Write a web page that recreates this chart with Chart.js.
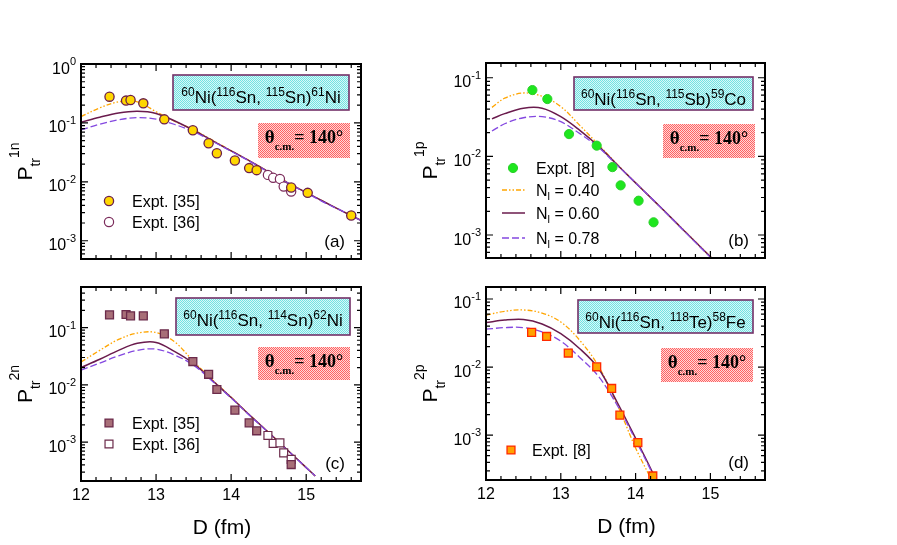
<!DOCTYPE html>
<html><head><meta charset="utf-8">
<script src="https://cdn.jsdelivr.net/npm/chart.js@4.4.1/dist/chart.umd.min.js"></script>
<style>
html,body{margin:0;padding:0;background:#fff;}
#wrap{position:relative;width:897px;height:545px;overflow:hidden;background:#fff;}
canvas{position:absolute;}
</style></head><body>
<div id="wrap">
<canvas id="ca" width="448" height="272" style="left:0px;top:0px"></canvas>
<canvas id="cb" width="497" height="272" style="left:400px;top:0px"></canvas>
<canvas id="cc" width="448" height="273" style="left:0px;top:272px"></canvas>
<canvas id="cd" width="497" height="273" style="left:400px;top:272px"></canvas>
</div>
<script>
// ---------------- data ----------------
const X_MIN = 12, X_MAX = 15.73;
const X_TICK_LABELS = [12, 13, 14, 15];
const X_MINOR_STEP = 0.2;

// (a) 60Ni(116Sn,115Sn)61Ni  -- P_tr^1n
const A_EXP35_D = [12.38, 12.60, 12.66, 12.83, 13.11, 13.49, 13.70, 13.81, 14.05, 14.24, 14.34, 14.80, 15.02, 15.60];
const A_EXP35_P = [0.279, 0.239, 0.245, 0.215, 0.115, 0.0751, 0.0452, 0.0306, 0.0230, 0.0171, 0.0158, 0.0080, 0.0065, 0.00269];
const A_EXP36_D = [14.49, 14.56, 14.65, 14.70, 14.80];
const A_EXP36_P = [0.0131, 0.0117, 0.0112, 0.0083, 0.00686];
const A_CURVE_D = [12.0, 12.25, 12.5, 12.75, 13.0, 13.25, 13.5, 13.75, 14.0, 14.25, 14.5, 14.75, 15.0, 15.25, 15.5, 15.75];
const A_NL040 = [0.128, 0.180, 0.228, 0.228, 0.155, 0.106, 0.076, 0.051, 0.0338, 0.0226, 0.0149, 0.0098, 0.0066, 0.0045, 0.0031, 0.00216];
const A_NL060 = [0.103, 0.125, 0.147, 0.157, 0.145, 0.108, 0.075, 0.050, 0.0335, 0.0225, 0.0148, 0.0097, 0.0066, 0.0045, 0.0031, 0.00215];
const A_NL078 = [0.076, 0.095, 0.113, 0.123, 0.116, 0.094, 0.071, 0.049, 0.0330, 0.0222, 0.0146, 0.0096, 0.0065, 0.0044, 0.0031, 0.00213];

// (b) 60Ni(116Sn,115Sb)59Co  -- P_tr^1p
const B_EXP8_D = [12.62, 12.82, 13.11, 13.48, 13.69, 13.80, 14.04, 14.24];
const B_EXP8_P = [0.0697, 0.0536, 0.0192, 0.0137, 0.0073, 0.00428, 0.00273, 0.00145];
const B_CURVE_D = [12.08, 12.25, 12.5, 12.75, 13.0, 13.25, 13.5, 13.75, 14.0, 14.25, 14.5, 14.75, 15.0, 15.25];
const B_NL040 = [0.042, 0.055, 0.064, 0.058, 0.043, 0.025, 0.0142, 0.0080, 0.0046, 0.0027, 0.00158, 0.00092, 0.00053, 0.00031];
const B_NL060 = [0.030, 0.035, 0.041, 0.041, 0.032, 0.0216, 0.0136, 0.0079, 0.0046, 0.0027, 0.00157, 0.00091, 0.00053, 0.00031];
const B_NL078 = [0.021, 0.026, 0.031, 0.032, 0.0276, 0.0196, 0.0131, 0.0078, 0.0046, 0.0027, 0.00156, 0.00090, 0.00052, 0.00030];

// (c) 60Ni(116Sn,114Sn)62Ni  -- P_tr^2n
const C_EXP35_D = [12.38, 12.60, 12.66, 12.83, 13.11, 13.49, 13.70, 13.81, 14.05, 14.24, 14.34, 14.80];
const C_EXP35_P = [0.166, 0.169, 0.160, 0.160, 0.0776, 0.0255, 0.0153, 0.0083, 0.00362, 0.00217, 0.00158, 0.000407];
const C_EXP36_D = [14.49, 14.56, 14.65, 14.70, 14.80];
const C_EXP36_P = [0.00131, 0.00095, 0.00097, 0.00065, 0.00050];
const C_CURVE_D = [12.0, 12.25, 12.5, 12.75, 13.0, 13.25, 13.5, 13.75, 14.0, 14.25, 14.5, 14.75, 15.0, 15.12];
const C_NL040 = [0.025, 0.040, 0.062, 0.080, 0.082, 0.056, 0.0255, 0.0122, 0.0061, 0.00296, 0.00148, 0.00073, 0.00036, 0.000257];
const C_NL060 = [0.020, 0.028, 0.040, 0.053, 0.055, 0.038, 0.0236, 0.0119, 0.0060, 0.00294, 0.00147, 0.00073, 0.00036, 0.000257];
const C_NL078 = [0.018, 0.024, 0.032, 0.040, 0.042, 0.033, 0.0220, 0.0116, 0.0059, 0.00290, 0.00146, 0.00072, 0.00036, 0.000256];

// (d) 60Ni(116Sn,118Te)58Fe  -- P_tr^2p
const D_EXP8_D = [12.61, 12.81, 13.10, 13.48, 13.68, 13.79, 14.03, 14.23];
const D_EXP8_P = [0.0323, 0.0282, 0.0161, 0.0101, 0.00486, 0.00197, 0.00078, 0.000252];
const D_CURVE_D = [12.0, 12.25, 12.5, 12.75, 13.0, 13.25, 13.5, 13.75, 14.0, 14.25, 14.4];
const D_NL040 = [0.058, 0.066, 0.069, 0.062, 0.046, 0.025, 0.0105, 0.0029, 0.00065, 0.00018, 0.00007];
const D_NL060 = [0.045, 0.049, 0.050, 0.043, 0.031, 0.0188, 0.0097, 0.0031, 0.00090, 0.00025, 0.00010];
const D_NL078 = [0.036, 0.038, 0.038, 0.033, 0.024, 0.0140, 0.0074, 0.0028, 0.00085, 0.00024, 0.00010];

const NL_LABELS = ['0.40', '0.60', '0.78'];

// ---------------- styles ----------------
const SANS = '"Liberation Sans", Arial, Helvetica, sans-serif';
const SERIF = '"Liberation Serif", "Times New Roman", serif';
const COL_NL040 = '#ffa500', COL_NL060 = '#6a1b4d', COL_NL078 = '#8448e0';
const DASH_NL040 = [5, 2, 1.5, 2, 1.5, 2], DASH_NL078 = [7, 3];

function pts(d, p) { return d.map((v, i) => ({ x: v, y: p[i] })); }
function curve(d, p, col, dash, w) {
  return { data: pts(d, p), borderColor: col, borderDash: dash, borderWidth: w, pointRadius: 0,
           fill: false, tension: 0.35, showLine: true };
}
function marks(d, p, style, r, bg, bc, bw) {
  return { data: pts(d, p), showLine: false, pointStyle: style, pointRadius: r,
           pointBackgroundColor: bg, pointBorderColor: bc, pointBorderWidth: bw,
           borderColor: bc, backgroundColor: bg };
}
function curves(d, n40, n60, n78) {
  return [curve(d, n78, COL_NL078, DASH_NL078, 1.3), curve(d, n60, COL_NL060, [], 1.5), curve(d, n40, COL_NL040, DASH_NL040, 1.3)];
}

const STY = {
  a35: ['circle', 4.6, '#ffd700', '#6b1f4a', 1.3],
  a36: ['circle', 4.6, '#ffffff', '#7a2a5a', 1.2],
  b8:  ['circle', 4.6, '#1ee61e', '#2ccf2c', 1.0],
  c35: ['rect', 5.6, '#a86f78', '#6b2a4a', 1.3],
  c36: ['rect', 5.6, '#ffffff', '#6b2a4a', 1.2],
  d8:  ['rect', 5.6, '#ffa200', '#ff2a00', 1.3]
};
function mk(d, p, s) { return marks(d, p, s[0], s[1], s[2], s[3], s[4]); }

// ---------------- patterns ----------------
function pattern(ctx, c1, c2) {
  const t = document.createElement('canvas'); t.width = 2; t.height = 2;
  const g = t.getContext('2d');
  g.fillStyle = c2; g.fillRect(0, 0, 2, 2);
  g.fillStyle = c1; g.fillRect(0, 0, 1, 1); g.fillRect(1, 1, 1, 1);
  return ctx.createPattern(t, 'repeat');
}

function richW(ctx, parts) { let w = 0; for (const p of parts) { ctx.font = p.f; w += ctx.measureText(p.t).width; } return w; }
function drawRich(ctx, x, y, parts, align) {
  const w = richW(ctx, parts);
  let cx = align === 'center' ? x - w / 2 : align === 'right' ? x - w : x;
  ctx.textAlign = 'left'; ctx.textBaseline = 'alphabetic';
  for (const p of parts) { ctx.font = p.f; ctx.fillStyle = p.c || '#000'; ctx.fillText(p.t, cx, y + (p.dy || 0)); cx += ctx.measureText(p.t).width; }
  return w;
}
function drawMarker(ctx, s, x, y) {
  const [style, r, bg, bc, bw] = s;
  ctx.save(); ctx.fillStyle = bg; ctx.strokeStyle = bc; ctx.lineWidth = bw;
  ctx.beginPath();
  if (style === 'circle') ctx.arc(x, y, r, 0, Math.PI * 2);
  else { const h = r * Math.SQRT1_2; ctx.rect(x - h, y - h, 2 * h, 2 * h); }
  ctx.fill(); ctx.stroke(); ctx.restore();
}

// ---------------- decorations plugin ----------------
function decor(cfg) {
  return {
    id: 'decor',
    beforeDatasetsDraw(chart) {
      const ctx = chart.ctx, a = chart.chartArea;
      ctx.save();
      // reaction box
      const cb = cfg.cyanBox;
      ctx.fillStyle = pattern(ctx, '#72e2e2', '#d8f8f8');
      ctx.fillRect(a.left + cb[0], a.top + cb[1], cb[2] - cb[0], cb[3] - cb[1]);
      ctx.strokeStyle = '#733068'; ctx.lineWidth = 1.6;
      ctx.strokeRect(a.left + cb[0], a.top + cb[1], cb[2] - cb[0], cb[3] - cb[1]);
      const parts = cfg.reaction.map(r => r[1] ? { t: r[0], f: '12px ' + SANS, dy: -7 } : { t: r[0], f: '17px ' + SANS });
      drawRich(ctx, a.left + (cb[0] + cb[2]) / 2, a.top + cb[1] + 27.5, parts, 'center');
      // theta box
      const rb = cfg.redBox;
      ctx.fillStyle = pattern(ctx, '#ff6262', '#ffd8d8');
      ctx.fillRect(a.left + rb[0], a.top + rb[1], rb[2] - rb[0], rb[3] - rb[1]);
      drawRich(ctx, a.left + (rb[0] + rb[2]) / 2, a.top + rb[1] + 20, [
        { t: 'θ', f: 'bold 19px ' + SERIF },
        { t: 'c.m.', f: 'bold 11px ' + SERIF, dy: 7 },
        { t: '= 140°', f: 'bold 18px ' + SERIF }], 'center');
      ctx.restore();
    },
    afterDatasetsDraw(chart) {
      const ctx = chart.ctx, a = chart.chartArea, xs = chart.scales.x, ys = chart.scales.y;
      ctx.save();
      // frame
      ctx.strokeStyle = '#000'; ctx.lineWidth = 2;
      ctx.strokeRect(a.left, a.top, a.right - a.left, a.bottom - a.top);
      ctx.lineWidth = 1.2;
      ctx.beginPath();
      const nx = Math.round((X_MAX - X_MIN) / X_MINOR_STEP);
      for (let i = 0; i <= nx; i++) {
        const v = X_MIN + i * X_MINOR_STEP; if (v > X_MAX + 1e-9) break;
        const px = xs.getPixelForValue(v);
        const L = Math.abs(v - Math.round(v)) < 1e-6 ? 7 : 4;
        ctx.moveTo(px, a.bottom); ctx.lineTo(px, a.bottom - L);
        ctx.moveTo(px, a.top); ctx.lineTo(px, a.top + L);
      }
      const k0 = Math.floor(Math.log10(cfg.yMin)), k1 = Math.ceil(Math.log10(cfg.yMax));
      for (let k = k0; k <= k1; k++) for (let m = 1; m <= 9; m++) {
        const v = m * Math.pow(10, k);
        if (v < cfg.yMin * 0.999 || v > cfg.yMax * 1.001) continue;
        const py = ys.getPixelForValue(v), L = m === 1 ? 7 : 4;
        ctx.moveTo(a.left, py); ctx.lineTo(a.left + L, py);
        ctx.moveTo(a.right, py); ctx.lineTo(a.right - L, py);
      }
      ctx.stroke();
      // y tick labels
      for (let k = k0; k <= k1; k++) {
        const v = Math.pow(10, k);
        if (v < cfg.yMin * 0.999 || v > cfg.yMax * 1.04) continue;
        const py = ys.getPixelForValue(v);
        drawRich(ctx, a.left - 5, py + 9.5, [{ t: '10', f: '16px ' + SANS }, { t: String(k), f: '11px ' + SANS, dy: -8.5 }], 'right');
      }
      // x tick labels + title
      if (cfg.showX) {
        ctx.fillStyle = '#000'; ctx.font = '16px ' + SANS; ctx.textAlign = 'center'; ctx.textBaseline = 'alphabetic';
        for (const t of X_TICK_LABELS) ctx.fillText(String(t), xs.getPixelForValue(t), a.bottom + 18.5);
        ctx.font = '21px ' + SANS;
        ctx.fillText('D (fm)', (a.left + a.right) / 2 + 1, a.bottom + 53);
      }
      // y title
      ctx.save();
      const yparts = [{ t: 'P', f: '21px ' + SANS }, { t: 'tr', f: '14px ' + SANS, dy: 8 }, { t: cfg.ySup, f: '14px ' + SANS, dy: -13 }];
      ctx.translate(a.left - 49, (a.top + a.bottom) / 2);
      ctx.rotate(-Math.PI / 2);
      drawRich(ctx, 0, 0, yparts, 'center');
      ctx.restore();
      // panel label
      ctx.fillStyle = '#000'; ctx.font = '17px ' + SANS; ctx.textAlign = 'right'; ctx.textBaseline = 'alphabetic';
      ctx.fillText(cfg.label, a.right - 16, a.bottom - 12);
      // legend
      ctx.font = '16px ' + SANS; ctx.textAlign = 'left';
      for (const e of cfg.legend) {
        const x = a.left + e.x, y = a.top + e.y;
        if (e.marker) {
          drawMarker(ctx, e.marker, x, y);
          ctx.fillStyle = '#000'; ctx.font = '16px ' + SANS; ctx.textAlign = 'left';
          ctx.fillText(e.text, a.left + e.tx, y + 6);
        } else {
          ctx.save(); ctx.strokeStyle = e.col; ctx.lineWidth = e.w; ctx.setLineDash(e.dash);
          ctx.beginPath(); ctx.moveTo(x - 11, y); ctx.lineTo(x + 12, y); ctx.stroke(); ctx.restore();
          drawRich(ctx, a.left + e.tx, y + 6, [{ t: 'N', f: '16px ' + SANS }, { t: 'l', f: '11px ' + SANS, dy: 4 }, { t: ' = ' + e.text, f: '16px ' + SANS }], 'left');
        }
      }
      ctx.restore();
    }
  };
}

function makeChart(id, cfg, datasets) {
  const axis = (extra) => Object.assign({ display: true, grid: { display: false, drawTicks: false }, border: { display: false }, ticks: { display: false } }, extra);
  return new Chart(document.getElementById(id), {
    type: 'line',
    data: { datasets },
    options: {
      animation: false, responsive: false, devicePixelRatio: 1,
      layout: { padding: cfg.pad, autoPadding: false },
      plugins: { legend: { display: false }, tooltip: { enabled: false } },
      scales: {
        x: axis({ type: 'linear', min: X_MIN, max: X_MAX }),
        y: axis({ type: 'logarithmic', min: cfg.yMin, max: cfg.yMax })
      }
    },
    plugins: [decor(cfg)]
  });
}

makeChart('ca', {
  pad: { left: 81, top: 64, right: 87, bottom: 13 }, yMin: 4.9e-4, yMax: 1.0, ySup: '1n', label: '(a)', showX: false,
  reaction: [['60', 1], ['Ni(', 0], ['116', 1], ['Sn, ', 0], ['115', 1], ['Sn)', 0], ['61', 1], ['Ni', 0]],
  cyanBox: [92, 11, 268, 46], redBox: [177, 59, 269, 94],
  legend: [{ x: 28, y: 137, tx: 51, marker: STY.a35, text: 'Expt. [35]' }, { x: 28, y: 158, tx: 51, marker: STY.a36, text: 'Expt. [36]' }]
}, [mk(A_EXP35_D, A_EXP35_P, STY.a35), mk(A_EXP36_D, A_EXP36_P, STY.a36)].concat(curves(A_CURVE_D, A_NL040, A_NL060, A_NL078)));

makeChart('cb', {
  pad: { left: 86, top: 63, right: 132, bottom: 14 }, yMin: 5.1e-4, yMax: 0.154, ySup: '1p', label: '(b)', showX: false,
  reaction: [['60', 1], ['Ni(', 0], ['116', 1], ['Sn, ', 0], ['115', 1], ['Sb)', 0], ['59', 1], ['Co', 0]],
  cyanBox: [88, 14, 267, 47], redBox: [177, 61, 269, 95],
  legend: [
    { x: 27, y: 105, tx: 50, marker: STY.b8, text: 'Expt. [8]' },
    { x: 27, y: 127, tx: 50, col: COL_NL040, dash: DASH_NL040, w: 1.3, text: NL_LABELS[0] },
    { x: 27, y: 150, tx: 50, col: COL_NL060, dash: [], w: 1.5, text: NL_LABELS[1] },
    { x: 27, y: 175, tx: 50, col: COL_NL078, dash: DASH_NL078, w: 1.3, text: NL_LABELS[2] }]
}, [mk(B_EXP8_D, B_EXP8_P, STY.b8)].concat(curves(B_CURVE_D, B_NL040, B_NL060, B_NL078)));

makeChart('cc', {
  pad: { left: 81, top: 15, right: 87, bottom: 64 }, yMin: 2.1e-4, yMax: 0.51, ySup: '2n', label: '(c)', showX: true,
  reaction: [['60', 1], ['Ni(', 0], ['116', 1], ['Sn, ', 0], ['114', 1], ['Sn)', 0], ['62', 1], ['Ni', 0]],
  cyanBox: [95, 11, 269, 48], redBox: [177, 60, 269, 93],
  legend: [{ x: 28, y: 136, tx: 51, marker: STY.c35, text: 'Expt. [35]' }, { x: 28, y: 157, tx: 51, marker: STY.c36, text: 'Expt. [36]' }]
}, [mk(C_EXP35_D, C_EXP35_P, STY.c35), mk(C_EXP36_D, C_EXP36_P, STY.c36)].concat(curves(C_CURVE_D, C_NL040, C_NL060, C_NL078)));

makeChart('cd', {
  pad: { left: 86, top: 15, right: 132, bottom: 65 }, yMin: 2.2e-4, yMax: 0.15, ySup: '2p', label: '(d)', showX: true,
  reaction: [['60', 1], ['Ni(', 0], ['116', 1], ['Sn, ', 0], ['118', 1], ['Te)', 0], ['58', 1], ['Fe', 0]],
  cyanBox: [92, 13, 267, 46], redBox: [175, 61, 267, 95],
  legend: [{ x: 25, y: 163, tx: 46, marker: STY.d8, text: 'Expt. [8]' }]
}, [mk(D_EXP8_D, D_EXP8_P, STY.d8)].concat(curves(D_CURVE_D, D_NL040, D_NL060, D_NL078)));
</script>
</body></html>
